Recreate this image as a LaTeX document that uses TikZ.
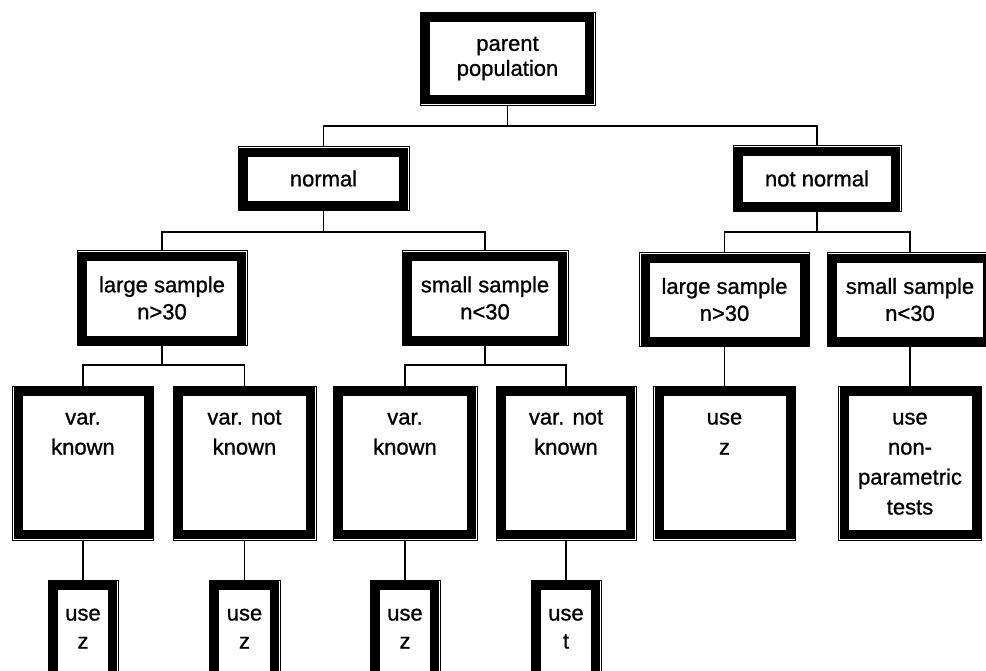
\documentclass[tikz,border=0pt]{standalone}
\usepackage{fontspec}
\setmainfont[FakeBold=0.9]{Liberation Sans}
\begin{document}
\begin{tikzpicture}[x=1pt,y=-1pt,
  box/.style={draw, line width=1pt, fill=white, inner sep=0pt, align=center,
    font=\fontsize{22}{26}\selectfont,
    path picture={\draw[line width=9pt]
      ([shift={(5.5pt,5.5pt)}]path picture bounding box.south west) rectangle
      ([shift={(-5.5pt,-5.5pt)}]path picture bounding box.north east);}},
  txt/.style={anchor=base, align=center, inner sep=0pt, font=\fontsize{22}{30}\selectfont},
  conn/.style={line width=1.6pt}]
\useasboundingbox (0,0) rectangle (986,670);
\clip (0,0) rectangle (986,670);
% bus levels
\coordinate (b1) at (0,126);
\coordinate (b2) at (0,232);
\coordinate (b3) at (0,365);
% level 1
\node[box, minimum width=175, minimum height=93, font=\fontsize{22}{25}\selectfont] (parent) at (507.5,58.5) {parent\\population};
% level 2
\node[box, minimum width=171, minimum height=64] (normal) at (323.5,178.5) {normal};
\node[box, minimum width=168, minimum height=66] (notnormal) at (817,178.5) {not normal};
% level 3
\node[box, minimum width=170, minimum height=95, font=\fontsize{22}{27}\selectfont] (largeL) at (162,298) {large sample\\n>30};
\node[box, minimum width=166, minimum height=95, font=\fontsize{22}{27}\selectfont] (smallL) at (485,298) {small sample\\n<30};
\node[box, minimum width=170, minimum height=94, font=\fontsize{22}{27}\selectfont] (largeR) at (724.5,299.5) {large sample\\n>30};
\node[box, minimum width=166, minimum height=94, font=\fontsize{22}{27}\selectfont] (smallR) at (910,299.5) {small sample\\n<30};
% level 4
\node[box, minimum width=141, minimum height=154] (vk1) at (83,463) {};
\node[box, minimum width=143, minimum height=154] (vnk1) at (244.5,463) {};
\node[box, minimum width=144, minimum height=154] (vk2) at (405,463) {};
\node[box, minimum width=140, minimum height=154] (vnk2) at (566,463) {};
\node[box, minimum width=142, minimum height=154] (usezR) at (724.5,463) {};
\node[box, minimum width=143, minimum height=154] (nonpar) at (910,463) {};
\node[txt] (vk1t) at ([yshift=-69pt]vk1.north) {var.\\known};
\node[txt] (vnk1t) at ([yshift=-69pt]vnk1.north) {var. not\\known};
\node[txt] (vk2t) at ([yshift=-69pt]vk2.north) {var.\\known};
\node[txt] (vnk2t) at ([yshift=-69pt]vnk2.north) {var. not\\known};
\node[txt] (usezRt) at ([yshift=-69pt]usezR.north) {use\\z};
\node[txt] (nonpart) at ([yshift=-129pt]nonpar.north) {use\\non-\\parametric\\tests};
% level 5
\node[box, minimum width=70, minimum height=110] (u1) at (83,635) {};
\node[box, minimum width=71, minimum height=110] (u2) at (244.5,635) {};
\node[box, minimum width=70, minimum height=110] (u3) at (405,635) {};
\node[box, minimum width=70, minimum height=110] (u4) at (566,635) {};
\node[txt, font=\fontsize{22}{28}\selectfont] (u1t) at ([yshift=-69pt]u1.north) {use\\z};
\node[txt, font=\fontsize{22}{28}\selectfont] (u2t) at ([yshift=-69pt]u2.north) {use\\z};
\node[txt, font=\fontsize{22}{28}\selectfont] (u3t) at ([yshift=-69pt]u3.north) {use\\z};
\node[txt, font=\fontsize{22}{28}\selectfont] (u4t) at ([yshift=-69pt]u4.north) {use\\t};
% connectors
\begin{scope}[conn]
\draw (parent.south) -- (parent.south |- b1);
\draw (normal.north) -- (normal.north |- b1) -- (notnormal.north |- b1) -- (notnormal.north);
\draw (normal.south) -- (normal.south |- b2);
\draw (largeL.north) -- (largeL.north |- b2) -- (smallL.north |- b2) -- (smallL.north);
\draw (notnormal.south) -- (notnormal.south |- b2);
\draw (largeR.north) -- (largeR.north |- b2) -- (smallR.north |- b2) -- (smallR.north);
\draw (largeL.south) -- (largeL.south |- b3);
\draw (vk1.north) -- (vk1.north |- b3) -- (vnk1.north |- b3) -- (vnk1.north);
\draw (smallL.south) -- (smallL.south |- b3);
\draw (vk2.north) -- (vk2.north |- b3) -- (vnk2.north |- b3) -- (vnk2.north);
\draw (largeR.south) -- (usezR.north);
\draw (smallR.south) -- (nonpar.north);
\draw (vk1.south) -- (u1.north);
\draw (vnk1.south) -- (u2.north);
\draw (vk2.south) -- (u3.north);
\draw (vnk2.south) -- (u4.north);
\end{scope}
\end{tikzpicture}
\end{document}
